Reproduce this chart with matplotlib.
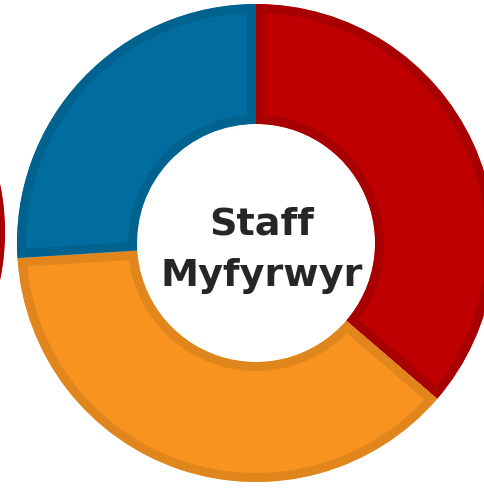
import matplotlib
matplotlib.use("Agg")
import matplotlib.pyplot as plt

# Data
categories = ["Red group", "Orange group", "Blue group"]
values = [36.3, 37.7, 26.0]
fill_colors = ["#BE0000", "#F7931E", "#006D9E"]
edge_colors = ["#A80000", "#E0861C", "#00628F"]
center_lines = ["Staff", "Myfyrwyr"]

W, H = 485, 491
fig = plt.figure(figsize=(W / 100, H / 100), dpi=100)
ax = fig.add_axes([0, 0, 1, 1])

band_px = 9
lw = 2 * band_px * 72 / 100

cx, cy = 256, 491 - 243
R, width = 239, 120

wedges, _ = ax.pie(values, colors=fill_colors, startangle=90, counterclock=False,
                   center=(cx, cy), radius=R, frame=True,
                   wedgeprops=dict(width=width, linewidth=lw))
for w, ec in zip(wedges, edge_colors):
    w.set_edgecolor(ec)
    w.set_clip_on(True)
    w.set_clip_path(w)

# neighbouring donut, cut off at the left edge
nb, _ = ax.pie([1], colors=[fill_colors[0]], startangle=90, center=(-234, 491 - 232),
               radius=R, frame=True, wedgeprops=dict(width=width, linewidth=lw))
for w in nb:
    w.set_edgecolor(edge_colors[0])
    w.set_clip_on(True)
    w.set_clip_path(w)

ax.set_xlim(0, W)
ax.set_ylim(0, H)
ax.set_aspect("equal")
ax.axis("off")

ax.text(262, 491 - 234, center_lines[0], ha="center", va="baseline",
        fontsize=27.5, fontweight="bold", color="#262626", family="DejaVu Sans")
ax.text(262, 491 - 286, center_lines[1], ha="center", va="baseline",
        fontsize=27.5, fontweight="bold", color="#262626", family="DejaVu Sans")

fig.savefig("out.png", dpi=100)
